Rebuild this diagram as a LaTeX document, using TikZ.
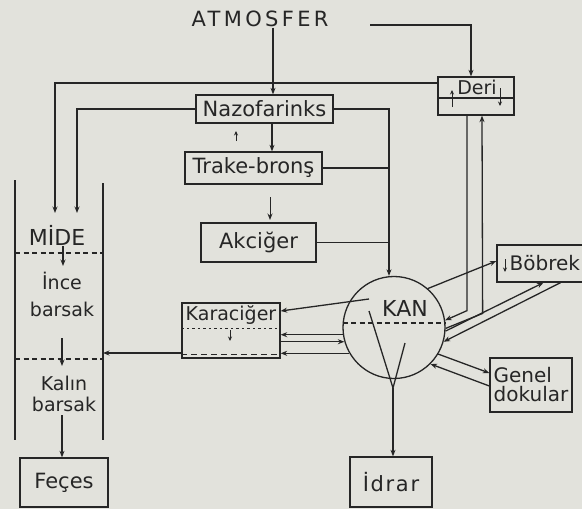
\documentclass[tikz,border=0pt]{standalone}
\usepackage{fontspec}
\setmainfont{DejaVu Sans}
\usetikzlibrary{arrows.meta}
\definecolor{paper}{RGB}{226,226,220}
\definecolor{ink}{RGB}{38,38,38}
\newcommand\myfs[1]{\fontsize{#1}{#1}\selectfont}
\begin{document}
\begin{tikzpicture}[x=1pt,y=-1pt,line width=1.3pt,draw=ink,
  box/.style={draw,rectangle,inner sep=0pt,text=ink},
  lbl/.style={inner sep=0pt,text=ink},
  arr/.style={-{Stealth[length=6.5pt,width=5pt]}},
  sarr/.style={-{Stealth[length=4.5pt,width=4pt]},line width=1pt},
  dsh/.style={dash pattern=on 5pt off 3.5pt}]
\fill[paper] (0,0) rectangle (582,509);
\useasboundingbox (0,0) rectangle (582,509);

% ---- nodes ----
\node[lbl,font=\myfs{21}\addfontfeature{LetterSpace=16}] (atm) at (260,19) {ATMOSFER};
\node[box,minimum width=137pt,minimum height=28pt,font=\myfs{21}] (nazo) at (264.5,109) {Nazofarinks};
\node[box,minimum width=137pt,minimum height=32pt,font=\myfs{21}] (trake) at (253.5,168) {Trake-bronş};
\node[box,minimum width=115pt,minimum height=39pt,font=\myfs{21}] (akc) at (258.5,242.5) {Akciğer};
\node[box,minimum width=76pt,minimum height=38pt] (deri) at (476,96) {};
\node[lbl,font=\myfs{19}] (derit) at (477,87) {Deri};
\node[draw,circle,minimum size=102pt,inner sep=0pt] (kan) at (394,327.5) {};
\node[lbl,font=\myfs{22}] (kant) at (405,308) {KAN};
\node[box,minimum width=98pt,minimum height=55pt] (kara) at (231,330.5) {};
\node[lbl,font=\myfs{19}] (karat) at (231,315) {Karaciğer};
\node[box,minimum width=93pt,minimum height=37pt] (bob) at (543.5,263.5) {};
\node[lbl,font=\myfs{20},anchor=west] (bobt) at (509,263) {Böbrek};
\node[box,minimum width=82pt,minimum height=54pt,font=\myfs{20},align=left] (gen) at (531,385) {Genel\\[-1pt]dokular};
\node[box,minimum width=82pt,minimum height=50pt,font=\myfs{21}\addfontfeature{LetterSpace=8}] (idrar) at (391,482) {İdrar};
\node[box,minimum width=88pt,minimum height=49pt,font=\myfs{21}] (feces) at (64,482.5) {Feçes};

% ---- MIDE column ----
\draw (15,180) -- (15,440);
\draw (103,183) -- (103,440);
\draw[dsh] (15,253) -- (103,253);
\draw[dsh] (15,359) -- (103,359);
\node[lbl,font=\myfs{22}] (mide) at (57,235) {MİDE};
\node[lbl,font=\myfs{19},align=center] (ince) at (62,294) {İnce\\[8pt]barsak};
\node[lbl,font=\myfs{19},align=center] (kalin) at (64,394) {Kalın\\[2pt]barsak};
\coordinate (mideA) at (55,213);
\coordinate (mideB) at (77,213);
\coordinate (mideR) at (103,353);
\coordinate (m1) at (63,246); \coordinate (m2) at (63,266);
\coordinate (m3) at (62,338); \coordinate (m4) at (62,366);
\coordinate (m5) at (62,415);
\draw[arr] (m1) -- (m2);
\draw[arr] (m3) -- (m4);
\draw[arr] (m5) -- (m5 |- feces.north);

% ---- connectors ----
\draw[arr] ([xshift=8.5pt]nazo.north |- atm.south) -- ([xshift=8.5pt]nazo.north);
\coordinate (atmR) at (370,25);
\draw[arr] (atmR) -| ([xshift=-5pt]deri.north);
\draw[arr] ([yshift=13pt]deri.west) -| (mideA);
\draw[arr] (nazo.west) -| (mideB);
\coordinate (kt) at ([xshift=-5pt]kan.north);
\draw[arr] (nazo.east) -| (kt);
\draw (trake.east) -- (trake.east -| kt);
\draw (akc.east) -- (akc.east -| kt);
\draw[arr] ([xshift=7.5pt]nazo.south) -- ([xshift=7.5pt]nazo.south |- trake.north);
\coordinate (u1) at (236,141); \coordinate (u2) at (236,131);
\draw[sarr] (u1) -- (u2);
\coordinate (t1) at (270,197); \coordinate (t2) at (270,220);
\draw[arr,line width=1pt] (t1) -- (t2);

% Deri inner
\draw (deri.west |- 0,98) -- (deri.east |- 0,98);
\coordinate (d1) at (452,107); \coordinate (d2) at (452,90);
\coordinate (d3) at (500,88); \coordinate (d4) at (500,106);
\draw[sarr] (d1) -- (d2);
\draw[sarr] (d3) -- (d4);

% Karaciger inner
\draw[dash pattern=on 2.5pt off 3pt,line width=1pt] (kara.west |- 0,328) -- (kara.east |- 0,328);
\draw[dash pattern=on 6pt off 4pt,line width=1.5pt] (kara.west |- 0,354.5) -- (kara.east |- 0,354.5);
\coordinate (k1) at (230,330); \coordinate (k2) at (230,341);
\draw[sarr] (k1) -- (k2);
\draw[arr] ([yshift=-22.5pt]kara.west) -- (mideR);

% KAN inner
\draw[dsh] (kan.175) -- (kan.5);
\coordinate (kanIn) at (369,299);
\draw[arr] (kanIn) -- ([yshift=19.5pt]kara.east);
\draw[arr] (kan.188.5) -- (kara.east |- kan.188.5);
\draw[arr] (kara.east |- kan.196.5) -- (kan.196.5);
\draw[arr] (kan.210) -- (kara.east |- kan.210);
\coordinate (ka) at (369,311); \coordinate (kb) at (405,343); \coordinate (kj) at (393,388);
\draw (ka) -- (kj) -- (kb);
\draw[arr] (kj) -- (kj |- idrar.north);

% Deri <-> KAN
\draw[arr] ([xshift=-9pt]deri.south) -- ++(0,195) -- (kan.8);
\draw[arr] (kan.-1) -- ++(37,-15) -- ([xshift=6pt]deri.south);

% Bobrek <-> KAN
\draw[arr] (kan.49) -- ([yshift=2.5pt]bob.west);
\coordinate (b1) at (505,259); \coordinate (b2) at (505,272);
\draw[sarr] (b1) -- (b2);
\draw[arr] (kan.-4) -- (bob.south);
\draw[arr] ([xshift=17pt]bob.south) -- (kan.-16.5);

% Genel <-> KAN
\draw[arr] (kan.-31) -- ([yshift=12pt]gen.west);
\draw[arr] ([yshift=-1pt]gen.west) -- (kan.-45);
\end{tikzpicture}
\end{document}
